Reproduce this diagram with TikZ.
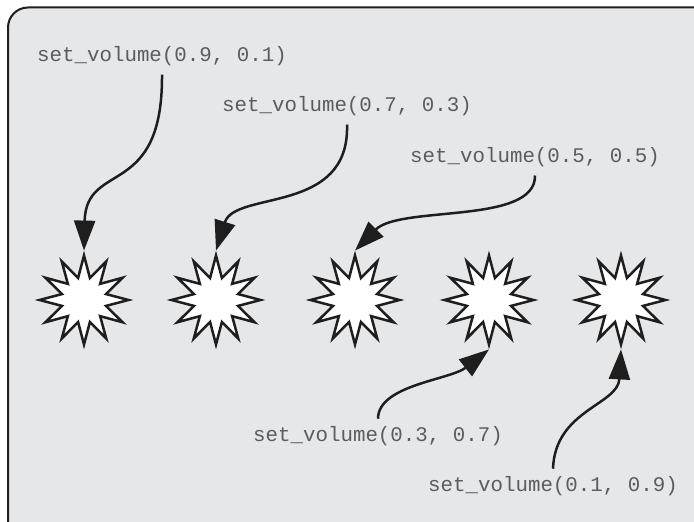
\documentclass[tikz,border=0pt]{standalone}
\usepackage{fontspec}
\newfontfamily\courfont{Liberation Mono}
\usetikzlibrary{shapes.geometric,arrows.meta}
\definecolor{bggray}{RGB}{230,231,233}
\definecolor{txtgray}{RGB}{92,92,92}
\definecolor{inkblack}{RGB}{30,30,30}
\begin{document}
\begin{tikzpicture}[x=1pt,y=1pt,
  burst/.style={star, star points=12, star point ratio=1.95, minimum size=89pt, inner sep=0pt, draw=inkblack, fill=white, line width=2.5pt, line join=miter},
  codelabel/.style={font=\courfont\fontsize{20.8}{24}\selectfont, text=txtgray, inner sep=8pt, anchor=base},
  conn/.style={draw=inkblack, line width=2.5pt, -{Triangle[length=30pt,width=21pt]}},
]
\useasboundingbox (0,0) rectangle (694,522);
\clip (0,0) rectangle (694,522);
\draw[line width=2pt, draw=inkblack, fill=bggray, rounded corners=20pt] (8,-30) rectangle (720,514.5);

\node[burst] (s1) at (84,222) {};
\node[burst] (s2) at (216,222) {};
\node[burst] (s3) at (355,222) {};
\node[burst] (s4) at (489,222) {};
\node[burst] (s5) at (621,222) {};

\node[codelabel] (l1) at (162,460) {set\_volume(0.9, 0.1)};
\node[codelabel] (l2) at (347,410) {set\_volume(0.7, 0.3)};
\node[codelabel] (l3) at (535,359) {set\_volume(0.5, 0.5)};
\node[codelabel] (l4) at (378,80) {set\_volume(0.3, 0.7)};
\node[codelabel] (l5) at (553,30) {set\_volume(0.1, 0.9)};

\draw[conn] (l1.south) .. controls (163,322) and (86,362) .. (s1.north);
\draw[conn] (l2.south) .. controls (350,307) and (235,332) .. (s2.north);
\draw[conn] (l3.south) .. controls (536,297) and (400,317) .. (s3.north);
\draw[conn] (l4.north) .. controls (378,137) and (450,142) .. (s4.south);
\draw[conn] (l5.north) .. controls (555,112) and (618,117) .. (s5.south);
\end{tikzpicture}
\end{document}
